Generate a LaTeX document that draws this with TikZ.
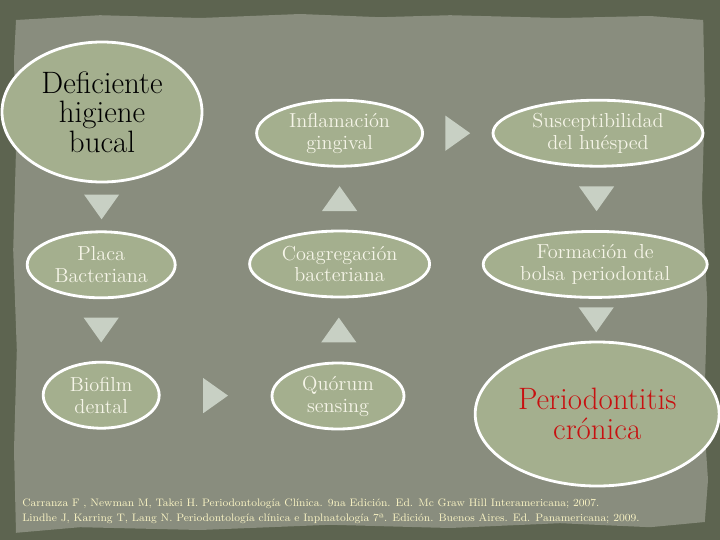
\documentclass[tikz,border=0pt]{standalone}
\usepackage{fontspec}
\usetikzlibrary{shapes.geometric,calc}
\definecolor{outerbg}{RGB}{93,100,80}
\definecolor{paper}{RGB}{137,141,126}
\definecolor{sage}{RGB}{164,175,142}
\definecolor{arrowtri}{RGB}{200,208,196}
\definecolor{cream}{RGB}{246,245,232}
\definecolor{reftext}{RGB}{250,244,196}
\definecolor{alertred}{RGB}{200,16,16}
\tikzset{
 stage/.style={ellipse, draw=white, line width=2pt, fill=sage, inner sep=0pt, align=center, text=cream, font=\fontsize{14.4}{15.6}\selectfont},
 bigstage/.style={stage, font=\fontsize{22}{21}\selectfont},
 tri/.pic={\fill[arrowtri] (-0.31,-0.44) -- (0.31,0) -- (-0.31,0.44) -- cycle;}
}
\begin{document}
\begin{tikzpicture}
\fill[outerbg] (0,0) rectangle (18,-13.5);
\useasboundingbox (0,0) rectangle (18,-13.5);
\fill[paper] (0.4,-0.5) -- (2.5,-0.38) -- (5,-0.45) -- (7.5,-0.35) -- (9.5,-0.43) -- (11.25,-0.38) -- (14,-0.45) -- (16.25,-0.4) -- (17.58,-0.5)
 -- (17.62,-2.5) -- (17.55,-5) -- (17.68,-7.5) -- (17.6,-10.5) -- (17.7,-12) -- (17.62,-13.05)
 -- (16.25,-13.18) -- (14,-13.08) -- (11.25,-13.2) -- (8.25,-13.12) -- (5,-13.25) -- (2,-13.18) -- (0.4,-13.32)
 -- (0.35,-11.25) -- (0.42,-8.75) -- (0.33,-6.25) -- (0.4,-3.75) -- (0.35,-1.5) -- cycle;
% fila superior
\node[bigstage, text=black, minimum width=5cm, minimum height=3.5cm] (def) at (2.55,-2.8) {Deficiente\\higiene\\bucal};
\node[stage, minimum width=4.15cm, minimum height=1.65cm] (infl) at (8.49,-3.33) {Inflamación\\gingival};
\node[stage, minimum width=5.25cm, minimum height=1.65cm] (susc) at (14.95,-3.33) {Susceptibilidad\\del huésped};
% fila media
\node[stage, minimum width=3.7cm, minimum height=1.65cm] (placa) at (2.53,-6.62) {Placa\\Bacteriana};
\node[stage, minimum width=4.5cm, minimum height=1.65cm] (coag) at (8.49,-6.6) {Coagregación\\bacteriana};
\node[stage, minimum width=5.6cm, minimum height=1.65cm] (form) at (14.88,-6.61) {Formación de\\bolsa periodontal};
% fila inferior
\node[stage, minimum width=2.9cm, minimum height=1.65cm] (bio) at (2.53,-9.88) {Biofilm\\dental};
\node[stage, minimum width=3.3cm, minimum height=1.65cm] (quor) at (8.45,-9.9) {Quórum\\sensing};
\node[bigstage, text=alertred, minimum width=6.1cm, minimum height=3.6cm] (perio) at (14.93,-10.35) {Periodontitis\\crónica};
% flechas
\pic[rotate=-90] at ($(def.south)!0.5!(placa.north)$) {tri};
\pic[rotate=-90] at ($(placa.south)!0.5!(bio.north)$) {tri};
\pic at ($(bio.east)!0.5!(quor.west)$) {tri};
\pic[rotate=90] at ($(quor.north)!0.5!(coag.south)$) {tri};
\pic[rotate=90] at ($(coag.north)!0.5!(infl.south)$) {tri};
\pic at ($(infl.east)!0.5!(susc.west)$) {tri};
\pic[rotate=-90] at ($(susc.south)!0.5!(form.north)$) {tri};
\pic[rotate=-90] at ($(form.south)!0.5!(perio.north)$) {tri};
% referencias
\node[anchor=base west, inner sep=0pt, text=reftext, font=\fontsize{7.7}{9}\selectfont] (ref1) at (0.55,-12.67) {Carranza F , Newman M, Takei H. Periodontología Clínica. 9na Edición. Ed. Mc Graw Hill Interamericana; 2007.};
\node[anchor=base west, inner sep=0pt, text=reftext, font=\fontsize{7.7}{9}\selectfont] (ref2) at (0.55,-13.04) {Lindhe J, Karring T, Lang N. Periodontología clínica e Inplnatología 7ª. Edición. Buenos Aires. Ed. Panamericana; 2009.};
\end{tikzpicture}
\end{document}
